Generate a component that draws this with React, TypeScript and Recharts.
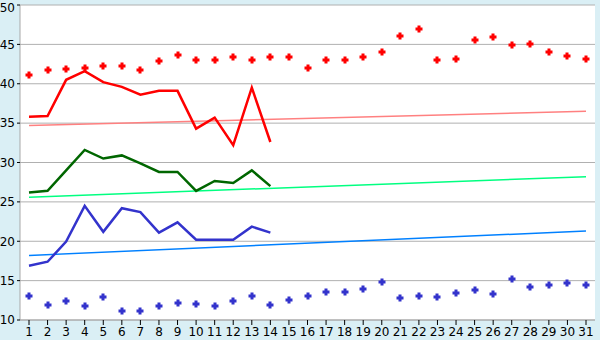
import React from "react";
import { ComposedChart, Line, XAxis, YAxis, CartesianGrid } from "recharts";

const days = Array.from({ length: 31 }, (_, i) => String(i + 1));
const redDots = [41.1, 41.7, 41.9, 42.0, 42.2, 42.2, 41.7, 42.9, 43.6, 43.0, 43.0, 43.4, 43.0, 43.4, 43.4, 42.0, 43.0, 43.0, 43.4, 44.0, 46.1, 46.9, 43.0, 43.2, 45.6, 45.9, 44.9, 45.0, 44.0, 43.5, 43.1];
const redLine = [35.8, 35.9, 40.5, 41.6, 40.2, 39.6, 38.6, 39.1, 39.1, 34.3, 35.7, 32.2, 39.5, 32.6];
const greenLine = [26.2, 26.4, 29.0, 31.6, 30.5, 30.9, 29.9, 28.8, 28.8, 26.4, 27.65, 27.4, 29.0, 27.0];
const blueLine = [16.9, 17.4, 19.95, 24.5, 21.2, 24.2, 23.7, 21.1, 22.4, 20.2, 20.2, 20.2, 21.85, 21.1];
const blueDots = [13.0, 11.9, 12.4, 11.75, 12.9, 11.1, 11.2, 11.75, 12.1, 12.0, 11.75, 12.4, 13.1, 11.9, 12.6, 13.1, 13.5, 13.5, 13.9, 14.8, 12.75, 13.1, 12.9, 13.4, 13.8, 13.3, 15.2, 14.15, 14.5, 14.65, 14.4];
const redTrend = [34.7, 36.5];
const greenTrend = [25.6, 28.2];
const blueTrend = [18.2, 21.3];
const yTicks = [10, 15, 20, 25, 30, 35, 40, 45, 50];

const data = days.map((d, i) => ({
  day: d,
  redDots: redDots[i],
  redLine: i < redLine.length ? redLine[i] : null,
  greenLine: i < greenLine.length ? greenLine[i] : null,
  blueLine: i < blueLine.length ? blueLine[i] : null,
  blueDots: blueDots[i],
  redTrend: i === 0 ? redTrend[0] : i === days.length - 1 ? redTrend[1] : null,
  greenTrend: i === 0 ? greenTrend[0] : i === days.length - 1 ? greenTrend[1] : null,
  blueTrend: i === 0 ? blueTrend[0] : i === days.length - 1 ? blueTrend[1] : null,
}));

const Plus = (color: string) => (props: any) => {
  const { cx, cy } = props;
  if (cx == null || cy == null || props.value == null) return <g />;
  const x = Math.round(cx);
  const y = Math.round(cy);
  return (
    <g>
      <rect x={x - 3.5} y={y - 1.5} width={7} height={3} fill={color} />
      <rect x={x - 1.5} y={y - 3.5} width={3} height={7} fill={color} />
    </g>
  );
};

const tickStyle = { fontFamily: "DejaVu Sans, Verdana, sans-serif", fontSize: 12, fill: "#000" };

export default function App() {
  return (
    <div style={{ position: "absolute", left: 0, top: 0, width: 600, height: 340, background: "#daeff5" }}>
      <ComposedChart width={600} height={340} data={data} margin={{ top: 5, right: 5, bottom: 0, left: 0 }}>
        <CartesianGrid vertical={false} stroke="#b0b0b0" fill="#ffffff" />
        <XAxis
          dataKey="day"
          height={20}
          tick={tickStyle}
          tickLine={{ stroke: "#000" }}
          tickSize={5}
          axisLine={{ stroke: "#a8a8a8" }}
          interval={0}
          padding={{ left: 9, right: 9 }}
        />
        <YAxis
          domain={[10, 50]}
          ticks={yTicks}
          width={20}
          tick={tickStyle}
          tickSize={3}
          tickLine={{ stroke: "#000" }}
          axisLine={{ stroke: "#a8a8a8" }}
          allowDataOverflow
        />
        <YAxis yAxisId="r" orientation="right" width={0} tick={false} tickLine={false} axisLine={{ stroke: "#a8a8a8", strokeWidth: 2 }} />
        <Line dataKey="redTrend" stroke="#ff8080" strokeWidth={1.5} dot={false} connectNulls isAnimationActive={false} />
        <Line dataKey="greenTrend" stroke="#00ff80" strokeWidth={1.5} dot={false} connectNulls isAnimationActive={false} />
        <Line dataKey="blueTrend" stroke="#0080ff" strokeWidth={1.5} dot={false} connectNulls isAnimationActive={false} />
        <Line dataKey="redLine" stroke="#ff0000" strokeWidth={2.5} dot={false} isAnimationActive={false} />
        <Line dataKey="greenLine" stroke="#006600" strokeWidth={2.5} dot={false} isAnimationActive={false} />
        <Line dataKey="blueLine" stroke="#3333cc" strokeWidth={2.5} dot={false} isAnimationActive={false} />
        <Line dataKey="redDots" stroke="none" dot={Plus("#ff0000")} activeDot={false} isAnimationActive={false} />
        <Line dataKey="blueDots" stroke="none" dot={Plus("#3333cc")} activeDot={false} isAnimationActive={false} />
      </ComposedChart>
    </div>
  );
}
